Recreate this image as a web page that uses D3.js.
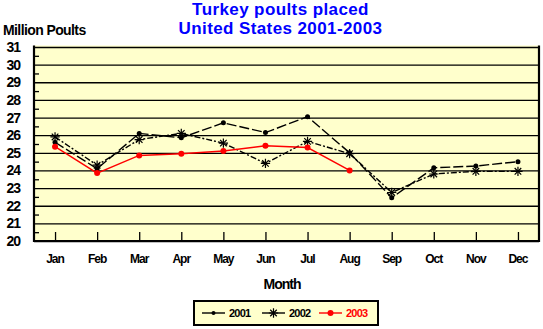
<!DOCTYPE html>
<html>
<head>
<meta charset="utf-8">
<script src="https://cdn.jsdelivr.net/npm/d3@7"></script>
<style>
  body { margin: 0; background: #fff; }
  svg text { font-family: "Liberation Sans", Arial, sans-serif; }
</style>
</head>
<body>
<svg id="chart" width="543" height="329"></svg>
<script>
// data
var months = ['Jan','Feb','Mar','Apr','May','Jun','Jul','Aug','Sep','Oct','Nov','Dec'];
var y2001 = [25.6, 24.1, 26.1, 25.85, 26.7, 26.15, 27.05, 25.0, 22.45, 24.15, 24.25, 24.5];
var y2002 = [25.9, 24.3, 25.75, 26.1, 25.55, 24.4, 25.65, 24.95, 22.75, 23.8, 23.95, 23.95];
var y2003 = [25.35, 23.85, 24.85, 24.95, 25.1, 25.4, 25.3, 24.0];
var yTicks = [20,21,22,23,24,25,26,27,28,29,30,31];

var svg = d3.select('#chart');
var margin = {left: 34, right: 4, top: 47, bottom: 88};
var W = 543, H = 329;

var x = d3.scalePoint().domain(months).range([margin.left, W - margin.right]).padding(0.5);
var y = d3.scaleLinear().domain([20, 31]).range([H - margin.bottom, margin.top]);

// plot background
svg.append('rect')
  .attr('x', margin.left).attr('y', margin.top - 1.5)
  .attr('width', W - margin.right - margin.left)
  .attr('height', y(20) - margin.top + 1.5)
  .attr('fill', '#ffffcc');

// gridlines
svg.append('g')
  .attr('transform', 'translate(' + margin.left + ',0)')
  .call(d3.axisRight(y).tickValues(yTicks).tickSize(W - margin.right - margin.left).tickFormat(''))
  .call(function(g){ g.select('.domain').remove(); })
  .selectAll('line').attr('stroke', '#000').attr('stroke-width', 1.3);

// minor ticks at half units
var halfTicks = yTicks.slice(0, -1).map(function(d){ return d + 0.5; });
svg.append('g')
  .attr('transform', 'translate(' + margin.left + ',0)')
  .call(d3.axisRight(y).tickValues(halfTicks).tickSize(5).tickFormat(''))
  .call(function(g){ g.select('.domain').remove(); })
  .selectAll('line').attr('stroke', '#000').attr('stroke-width', 1.3);

// x ticks pointing up from the bottom
svg.append('g')
  .attr('transform', 'translate(0,' + y(20) + ')')
  .call(d3.axisTop(x).tickSize(9).tickFormat(''))
  .call(function(g){ g.select('.domain').remove(); })
  .selectAll('line').attr('stroke', '#000').attr('stroke-width', 1.3);

// frame: left, bottom, right
svg.append('path')
  .attr('d', 'M' + margin.left + ',' + (margin.top - 1.5) + 'V' + y(20) + 'H' + (W - margin.right) + 'V' + (margin.top - 1.5))
  .attr('fill', 'none').attr('stroke', '#000').attr('stroke-width', 2.2);

// y labels
svg.append('g').selectAll('text').data(yTicks).join('text')
  .attr('x', 20).attr('y', function(d){ return y(d); })
  .attr('dy', '0.36em')
  .attr('text-anchor', 'end')
  .attr('font-size', 14).attr('font-weight', 'bold').attr('letter-spacing', -1)
  .text(function(d){ return d; });

// x labels
svg.append('g').selectAll('text').data(months).join('text')
  .attr('x', function(d){ return x(d); }).attr('y', 263)
  .attr('text-anchor', 'middle')
  .attr('font-size', 12).attr('font-weight', 'bold').attr('letter-spacing', -1)
  .text(function(d){ return d; });

svg.append('text').attr('x', 3).attr('y', 35)
  .attr('font-size', 14).attr('font-weight', 'bold').attr('letter-spacing', -0.6)
  .text('Million Poults');

svg.append('text').attr('x', 282).attr('y', 289).attr('text-anchor', 'middle')
  .attr('font-size', 14).attr('font-weight', 'bold').attr('letter-spacing', -1)
  .text('Month');

// title
svg.append('text').attr('x', 280.5).attr('y', 14.5).attr('text-anchor', 'middle')
  .attr('font-size', 17).attr('font-weight', 'bold').attr('letter-spacing', 0.4).attr('fill', '#0000ff')
  .text('Turkey poults placed');
svg.append('text').attr('x', 280.5).attr('y', 33.5).attr('text-anchor', 'middle')
  .attr('font-size', 17).attr('font-weight', 'bold').attr('letter-spacing', 0.4).attr('fill', '#0000ff')
  .text('United States 2001-2003');

// series
var line = d3.line().x(function(d, i){ return x(months[i]); }).y(function(d){ return y(d); });

function drawSeries(values, color, dash, marker) {
  var g = svg.append('g');
  g.append('path').datum(values)
    .attr('d', line)
    .attr('fill', 'none').attr('stroke', color).attr('stroke-width', 1.4)
    .attr('stroke-dasharray', dash);
  var pts = g.selectAll('.pt').data(values).join('g')
    .attr('transform', function(d, i){ return 'translate(' + x(months[i]) + ',' + y(d) + ')'; });
  marker(pts, color);
}

function dotMarker(r) {
  return function(sel, color) {
    sel.append('circle').attr('r', r).attr('fill', color);
  };
}
function starMarker(sel, color) {
  sel.append('path')
    .attr('d', d3.symbol().type(d3.symbolTimes).size(30)())
    .attr('fill', 'none').attr('stroke', color).attr('stroke-width', 1.2);
  sel.append('path')
    .attr('d', d3.symbol().type(d3.symbolPlus).size(30)())
    .attr('fill', 'none').attr('stroke', color).attr('stroke-width', 1.2);
}

drawSeries(y2002, '#000', '6,2,2,2', starMarker);
drawSeries(y2001, '#000', '10,3', dotMarker(2.5));
drawSeries(y2003, '#ff0000', null, dotMarker(3));

// legend
var leg = svg.append('g');
leg.append('rect').attr('x', 194).attr('y', 301).attr('width', 184).attr('height', 24)
  .attr('fill', '#ffffcc').attr('stroke', '#000').attr('stroke-width', 2);
var legItems = [
  {name: '2001', color: '#000', x0: 202, marker: dotMarker(2)},
  {name: '2002', color: '#000', x0: 262, marker: starMarker},
  {name: '2003', color: '#ff0000', x0: 319, marker: dotMarker(3)}
];
legItems.forEach(function(it) {
  var g = leg.append('g');
  g.append('line').attr('x1', it.x0).attr('x2', it.x0 + 23).attr('y1', 313).attr('y2', 313)
    .attr('stroke', it.color).attr('stroke-width', 1.4);
  var m = g.append('g').attr('transform', 'translate(' + (it.x0 + 11.5) + ',313)');
  it.marker(m, it.color);
  g.append('text').attr('x', it.x0 + 27).attr('y', 317)
    .attr('font-size', 11).attr('font-weight', 'bold').attr('letter-spacing', -0.8)
    .attr('fill', it.color).text(it.name);
});
</script>
</body>
</html>
